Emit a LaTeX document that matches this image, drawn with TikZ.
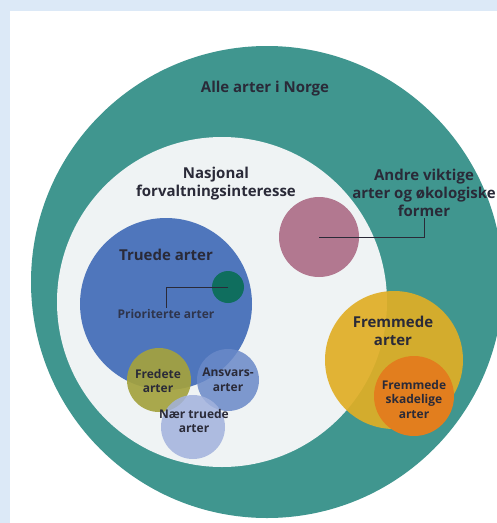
\documentclass[tikz,border=0pt]{standalone}
\usepackage{fontspec}
\setmainfont{Open Sans}
\definecolor{bgblue}{HTML}{DCE9F7}
\definecolor{allteal}{HTML}{40968F}
\definecolor{nasjlight}{HTML}{EFF3F4}
\definecolor{truedeblue}{HTML}{4F76BC}
\definecolor{priogreen}{HTML}{0F6E5E}
\definecolor{fredolive}{HTML}{A4A23E}
\definecolor{ansvblue}{HTML}{6A89C8}
\definecolor{naerblue}{HTML}{A2B2DD}
\definecolor{andrepink}{HTML}{B27890}
\definecolor{fremyellow}{HTML}{E0AE25}
\definecolor{skadorange}{HTML}{E27E1E}
\definecolor{txt}{HTML}{2A2A38}
\tikzset{
  disc/.style={circle, inner sep=0pt, minimum size=#1},
  lab/.style={text=txt, font=\bfseries\fontsize{15}{18}\selectfont, align=center, inner sep=1pt},
  smalllab/.style={text=txt, font=\fontsize{12}{14.5}\selectfont\bfseries, align=center, inner sep=1pt},
  pointer/.style={draw=txt, line width=0.7pt}
}
\begin{document}
\begin{tikzpicture}[x=1pt, y=-1pt]
\fill[bgblue] (0,0) rectangle (497,523);
\fill[white] (10,11) rectangle (497,523);
\useasboundingbox (0,0) rectangle (497,523);
\node[disc=472pt, fill=allteal] (alle) at (267,282) {};
\node[disc=330pt, fill=nasjlight] (nasj) at (222,302) {};
\node[lab] (alletxt) at (265,89) {Alle arter i Norge};
\node[lab] (nasjtxt) at (216,184) {Nasjonal\\forvaltningsinteresse};
% andre viktige
\node[disc=80pt, fill=andrepink] (andre) at (319,237) {};
\node[lab] (andretxt) at (424,193) {Andre viktige\\arter og økologiske\\former};
\draw[pointer] (andre.center) -| (andretxt.south);
% truede
\node[disc=172pt, fill=truedeblue] (truede) at (166,304) {};
\node[lab] (truedetxt) at (166,255) {Truede arter};
\node[disc=32pt, fill=priogreen] (prio) at (228,287) {};
\node[smalllab, text=txt!85!truedeblue] (priotxt) at (166,314) {Prioriterte arter};
\draw[pointer] (prio.center) -| (priotxt.north);
\node[disc=64pt, fill=fredolive, opacity=0.92] (fred) at (159,380) {};
\node[disc=62pt, fill=ansvblue, opacity=0.85] (ansv) at (228,380) {};
\node[disc=64pt, fill=naerblue, opacity=0.85] (naer) at (193,427) {};
\node[smalllab] (fredtxt) at (158,381) {Fredete\\arter};
\node[smalllab] (ansvtxt) at (228,380) {Ansvars-\\arter};
\node[smalllab] (naertxt) at (194,421) {Nær truede\\arter};
% fremmede
\node[disc=138pt, fill=fremyellow, opacity=0.92] (frem) at (394,360) {};
\node[lab] (fremtxt) at (393,331) {Fremmede\\arter};
\node[disc=80pt, fill=skadorange] (skad) at (414,396) {};
\node[smalllab] (skadtxt) at (414,399) {Fremmede\\skadelige\\arter};
\end{tikzpicture}
\end{document}
